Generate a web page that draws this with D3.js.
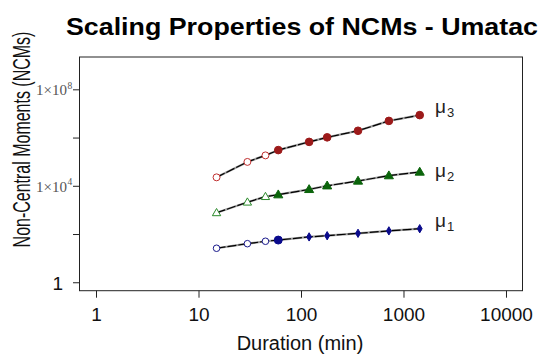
<!DOCTYPE html>
<html>
<head>
<meta charset="utf-8">
<script src="https://cdn.jsdelivr.net/npm/d3@7"></script>
<style>
  html, body { margin: 0; padding: 0; background: #fff; }
  svg { display: block; }
</style>
</head>
<body>
<svg id="chart" width="543" height="354"></svg>
<script>
// Aggregation durations (minutes)
const durations = [15, 30, 45, 60, 120, 180, 360, 720, 1440];
// Non-central moments of order 1..3 at each duration
const mu1 = [25.7, 39.8, 50.1, 56.2, 75.9, 85.1, 107, 135, 166];
const mu2 = [759, 2090, 3550, 4270, 7080, 10000, 15800, 26300, 37200];
const mu3 = [22400, 97700, 182000, 302000, 661000, 1020000, 1910000, 4900000, 8510000];
// The first durations are drawn with hollow symbols
const hollowCount = 3;
// Axis ticks
const xTicks = [1, 10, 100, 1000, 10000];
const yTicks = [1, 1e2, 1e4, 1e6, 1e8];
const yTickExponents = { 1: null, 1e4: "4", 1e8: "8" };
// Where the series names sit (value on the y axis)
const seriesNames = ["1", "2", "3"];
const nameAnchors = [195, 23000, 1.05e7];

const svg = d3.select("#chart");
const box = { left: 79.5, right: 522.5, top: 57, bottom: 290.7 };

const x = d3.scaleLog()
  .domain([Math.pow(10, -0.161), Math.pow(10, 4.161)])
  .range([box.left, box.right]);
const y = d3.scaleLog()
  .domain([Math.pow(10, -0.35), Math.pow(10, 9.34)])
  .range([box.bottom, box.top]);

// Title
svg.append("text")
  .attr("x", 302).attr("y", 34.5)
  .attr("text-anchor", "middle")
  .attr("font-family", "Arial, 'Liberation Sans', sans-serif")
  .attr("font-weight", "bold")
  .attr("font-size", 23)
  .attr("textLength", 472)
  .attr("lengthAdjust", "spacingAndGlyphs")
  .attr("fill", "#000")
  .text("Scaling Properties of NCMs - Umatac");

// X axis
const xAxis = svg.append("g")
  .attr("transform", `translate(0,${box.bottom})`)
  .call(d3.axisBottom(x).tickValues(xTicks).tickSize(7).tickPadding(10)
    .tickFormat(d3.format("d")));
xAxis.select(".domain").remove();
xAxis.selectAll(".tick line").attr("stroke", "#222");
xAxis.selectAll(".tick text")
  .attr("font-family", "Arial, 'Liberation Sans', sans-serif")
  .attr("font-size", 19)
  .attr("fill", "#111");

// Y axis
const yAxis = svg.append("g")
  .attr("transform", `translate(80,0)`)
  .call(d3.axisLeft(y).tickValues(yTicks).tickSize(7).tickFormat(""));
yAxis.select(".domain").remove();
yAxis.selectAll(".tick line").attr("stroke", "#222");
yAxis.selectAll(".tick").each(function (d) {
  const g = d3.select(this);
  if (!(d in yTickExponents)) return;
  const exp = yTickExponents[d];
  if (exp === null) {
    g.append("text")
      .attr("x", -17).attr("y", 7)
      .attr("text-anchor", "end")
      .attr("font-family", "Arial, 'Liberation Sans', sans-serif")
      .attr("font-size", 19)
      .attr("fill", "#111")
      .text("1");
  } else {
    g.append("text")
      .attr("x", -13).attr("y", 5.5)
      .attr("text-anchor", "end")
      .attr("font-family", "'Liberation Serif', 'Times New Roman', serif")
      .attr("font-size", 15)
      .attr("fill", "#555")
      .text("1\u00d710");
    g.append("text")
      .attr("x", -12.5).attr("y", -1)
      .attr("text-anchor", "start")
      .attr("font-family", "'Liberation Serif', 'Times New Roman', serif")
      .attr("font-size", 9.5)
      .attr("fill", "#555")
      .text(exp);
  }
});

// Plot frame
svg.append("rect")
  .attr("x", box.left).attr("y", box.top)
  .attr("width", box.right - box.left).attr("height", box.bottom - box.top)
  .attr("fill", "none").attr("stroke", "#222").attr("stroke-width", 1);

// Axis titles
svg.append("text")
  .attr("x", 300).attr("y", 350)
  .attr("text-anchor", "middle")
  .attr("font-family", "Arial, 'Liberation Sans', sans-serif")
  .attr("font-size", 20)
  .attr("fill", "#111")
  .text("Duration (min)");
// Vertical title: widened glyphs, same overall length
svg.append("text")
  .attr("transform", "translate(29.5,139.5) scale(1.5,1) rotate(-90)")
  .attr("text-anchor", "middle")
  .attr("font-family", "Arial, 'Liberation Sans', sans-serif")
  .attr("font-size", 16)
  .attr("fill", "#111")
  .text("Non-Central Moments (NCMs)");

// Series
const series = [
  { values: mu1, color: "#0a0a8c", hollowColor: "#1a1a8c", shape: "diamond" },
  { values: mu2, color: "#0b640b", hollowColor: "#2a8a2a", shape: "triangle" },
  { values: mu3, color: "#9c1a1a", hollowColor: "#c03030", shape: "circle" }
];

const line = d3.line().x(d => x(d[0])).y(d => y(d[1]));
const symCircle = d3.symbol().type(d3.symbolCircle);
const symTri = d3.symbol().type(d3.symbolTriangle);
const symDiamond = d3.symbol().type(d3.symbolDiamond);

series.forEach((s, si) => {
  const pts = durations.map((t, i) => [t, s.values[i]]);
  const g = svg.append("g");
  g.append("path").datum(pts)
    .attr("d", line).attr("fill", "none")
    .attr("stroke", "#a0a0a0").attr("stroke-width", 2.2);
  g.append("path").datum(pts)
    .attr("d", line).attr("fill", "none")
    .attr("stroke", "#000").attr("stroke-width", 1.2)
    .attr("stroke-dasharray", "9,2");

  pts.forEach((p, i) => {
    const cx = x(p[0]), cy = y(p[1]);
    const hollow = i < hollowCount;
    let path;
    if (s.shape === "triangle") {
      path = symTri.size(hollow ? 30 : 36)();
    } else if (s.shape === "diamond" && !hollow && i > hollowCount) {
      path = symDiamond.size(20)();
    } else if (s.shape === "diamond") {
      path = symCircle.size(hollow ? 34 : 50)();
    } else {
      path = symCircle.size(hollow ? 38 : 46)();
    }
    g.append("path")
      .attr("d", path)
      .attr("transform", `translate(${cx},${cy + (s.shape === "triangle" ? 0.5 : 0)})`)
      .attr("fill", hollow ? "#fff" : s.color)
      .attr("stroke", hollow ? s.hollowColor : s.color)
      .attr("stroke-width", 1);
  });

  // Series name: mu with subscript order
  const ny = y(nameAnchors[si]);
  const t = svg.append("text")
    .attr("x", 435).attr("y", ny)
    .attr("font-family", "Arial, 'Liberation Sans', sans-serif")
    .attr("font-size", 19)
    .attr("fill", "#222");
  t.append("tspan").text("\u03bc");
  t.append("tspan").attr("dx", 1).attr("dy", 4).attr("font-size", 13).text(seriesNames[si]);
});
</script>
</body>
</html>
